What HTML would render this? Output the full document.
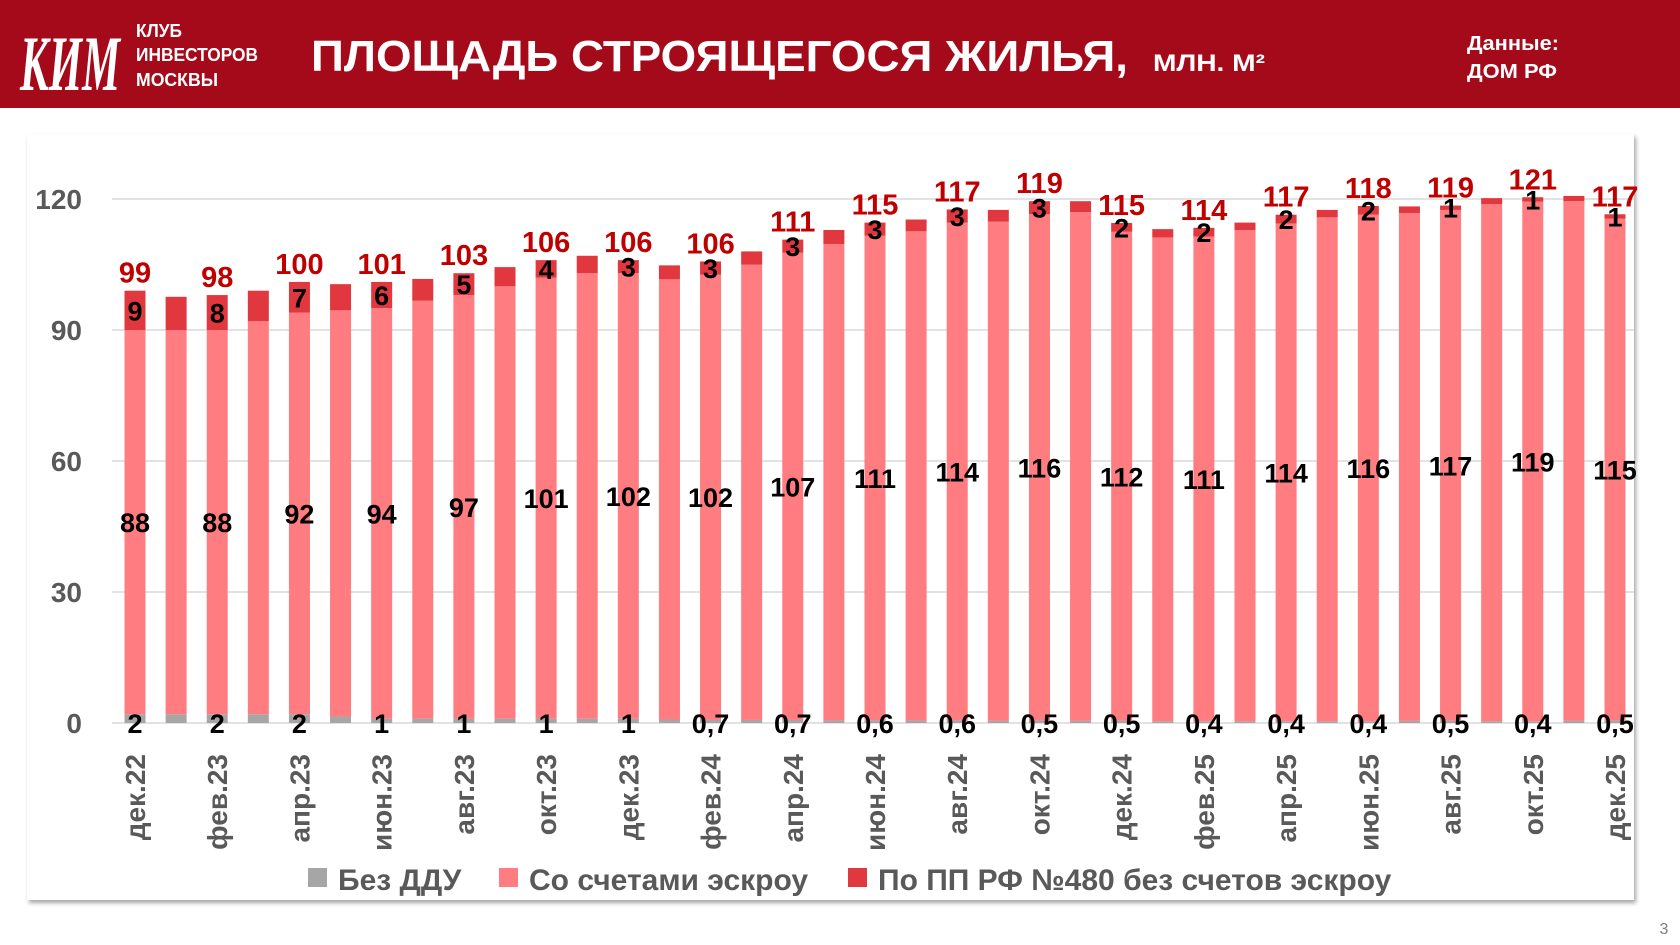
<!DOCTYPE html>
<html><head><meta charset="utf-8">
<style>
html,body{margin:0;padding:0;background:#fff;}
body{width:1680px;height:945px;overflow:hidden;position:relative;font-family:"Liberation Sans",sans-serif;}
#hdr{position:absolute;left:0;top:0;width:1680px;height:108px;background:#a50a1a;}
</style></head>
<body>
<div id="hdr"></div>
<svg id="svg" width="1680" height="945" style="position:absolute;left:0;top:0">
  <defs>
    <filter id="sh" x="-5%" y="-5%" width="110%" height="110%"><feDropShadow dx="2" dy="3" stdDeviation="2" flood-color="#000" flood-opacity="0.35"/></filter>
  </defs>
  <g>
    <text x="20" y="90" font-family="Liberation Serif,serif" font-style="italic" font-weight="bold" font-size="78" fill="#fff" textLength="100" lengthAdjust="spacingAndGlyphs">КИМ</text>
  </g>
  <g fill="#fff" font-weight="bold" font-size="18">
    <text x="136" y="37" textLength="46" lengthAdjust="spacingAndGlyphs">КЛУБ</text>
    <text x="136" y="61" textLength="122" lengthAdjust="spacingAndGlyphs">ИНВЕСТОРОВ</text>
    <text x="136" y="86" textLength="82" lengthAdjust="spacingAndGlyphs">МОСКВЫ</text>
  </g>
  <text x="311" y="71" fill="#fff" font-weight="bold" font-size="44" textLength="817" lengthAdjust="spacingAndGlyphs">ПЛОЩАДЬ СТРОЯЩЕГОСЯ ЖИЛЬЯ,</text>
  <text x="1153" y="71" fill="#fff" font-weight="bold" font-size="24" textLength="112" lengthAdjust="spacingAndGlyphs">МЛН. М²</text>
  <text x="1467" y="50" fill="#fff" font-weight="bold" font-size="20" textLength="92" lengthAdjust="spacingAndGlyphs">Данные:</text>
  <text x="1467" y="78" fill="#fff" font-weight="bold" font-size="20" textLength="90" lengthAdjust="spacingAndGlyphs">ДОМ РФ</text>
  <rect x="27" y="134" width="1607" height="766" fill="#fff" filter="url(#sh)"/>
  <g id="plot"></g>
  <text x="1664" y="934" fill="#7f7f7f" font-size="16" text-anchor="middle">3</text>
</svg>
<script>
const months = ["дек.22","янв.23","фев.23","мар.23","апр.23","май.23","июн.23","июл.23","авг.23","сен.23","окт.23","ноя.23","дек.23","янв.24","фев.24","мар.24","апр.24","май.24","июн.24","июл.24","авг.24","сен.24","окт.24","ноя.24","дек.24","янв.25","фев.25","мар.25","апр.25","май.25","июн.25","июл.25","авг.25","сен.25","окт.25","ноя.25","дек.25"];
const noDdu = [2,2,2,2,2,1.5,1,1,1,1,1,1,1,0.8,0.7,0.7,0.7,0.6,0.6,0.6,0.6,0.5,0.5,0.5,0.5,0.4,0.4,0.4,0.4,0.4,0.4,0.5,0.5,0.4,0.4,0.5,0.5];
const escrow = [88,88,88,90,92,93,94,95.7,97,99,101,102,102,100.8,102,104.3,107,109.1,111,112,114,114.3,116,116.5,112,110.8,111,112.5,114,115.4,116,116.3,117,118.4,119,119,115];
const pp480 = [9,7.6,8,7,7,6,6,5,5,4.4,4,4,3,3.2,3,3,3,3.2,3,2.7,3,2.7,3,2.5,2,1.9,2,1.7,2,1.7,2,1.5,1,1.4,1,1.2,1];
const totals = [99,null,98,null,100,null,101,null,103,null,106,null,106,null,106,null,111,null,115,null,117,null,119,null,115,null,114,null,117,null,118,null,119,null,121,null,117];
const yTicks = [0,30,60,90,120];
const legendNames = ["Без ДДУ","Со счетами эскроу","По ПП РФ №480 без счетов эскроу"];
const colors = ["#a6a6a6","#ff7c80","#e0383e"];

const NS="http://www.w3.org/2000/svg";
const g=document.getElementById('plot');
const y0=723, yTop=199, vmax=120;
function ys(v){return y0-(v/vmax)*(y0-yTop);}
const x0=135, x1=1615;
function xs(i){return x0+(x1-x0)*i/(months.length-1);}
const bw=21;
function mk(tag,attrs,txt){const e=document.createElementNS(NS,tag);for(const k in attrs)e.setAttribute(k,attrs[k]);if(txt!==undefined)e.textContent=txt;g.appendChild(e);return e;}
function fmt(v){return String(v).replace('.',',');}

yTicks.forEach(t=>{
  const l=mk('line',{x1:112,x2:1634,y1:ys(t),y2:ys(t),stroke:'#d9d9d9','stroke-width':1.5});
  
  
  const tx=mk('text',{x:82,y:ys(t)+10,'text-anchor':'end','font-size':28,'font-weight':'bold',fill:'#595959'},String(t));
  
  
});

months.forEach((m,i)=>{
  const cx=xs(i);
  const a=noDdu[i], b=escrow[i], c=pp480[i];
  const segs=[[0,a,colors[0],'bar-no-ddu'],[a,a+b,colors[1],'bar-escrow'],[a+b,a+b+c,colors[2],'bar-pp480']];
  segs.forEach(s=>{
    const r=mk('rect',{x:cx-bw/2,y:ys(s[1]),width:bw,height:ys(s[0])-ys(s[1]),fill:s[2]});
    
    
  });
  if(totals[i]!==null){
    const lb=[[fmt(a),y0+10],[fmt(b),ys(a+b/2)+10],[fmt(c),ys(a+b+c/2)+10]];
    lb.forEach((q,k)=>{
      const t=mk('text',{x:cx,y:q[1],'text-anchor':'middle','font-size':27,'font-weight':'bold',fill:'#000'},q[0]);
      
      
    });
    const tt=mk('text',{x:cx,y:ys(a+b+c)-8,'text-anchor':'middle','font-size':29,'font-weight':'bold',fill:'#c00000'},String(totals[i]));
    
    
    const xl=mk('text',{transform:`translate(${cx+10},754) rotate(-90)`,'text-anchor':'end','font-size':28,'font-weight':'bold',fill:'#595959'},m);
    
    
  }
});

// legend
const lx=[308,499,848];
legendNames.forEach((n,k)=>{
  const r=mk('rect',{x:lx[k],y:868,width:19,height:19,fill:colors[k]});
  
  
  const t=mk('text',{x:lx[k]+30,y:890,'font-size':30,'font-weight':'bold',fill:'#595959'},n);
  
  
});
</script>
</body></html>
